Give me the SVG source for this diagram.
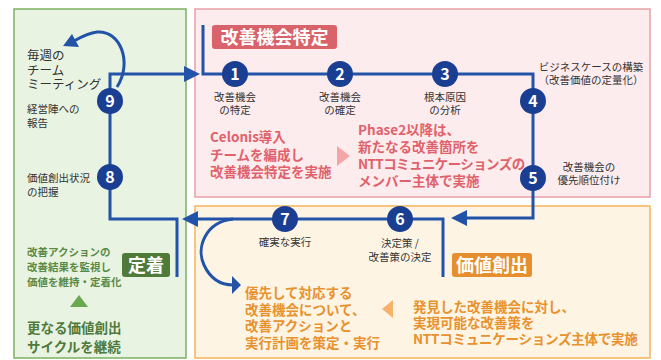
<svg xmlns="http://www.w3.org/2000/svg" width="661" height="360" viewBox="0 0 661 360">
<style>
text{font-family:"Noto Sans CJK JP","Noto Sans",sans-serif}
.lbl{font-size:10.5px;fill:#333}
.num{font-size:16px;font-weight:700;fill:#fff}
.ln{fill:none;stroke:#2353a8;stroke-width:3}
.ah{fill:#2353a8}
.dot{fill:#1a3f92}
.red{font-size:13.5px;font-weight:700;fill:#e0616b}
.org{font-size:13.5px;font-weight:700;fill:#e8912d}
.grn{font-size:10.5px;font-weight:700;fill:#5a8a46}
.tag{font-size:18px;font-weight:700;fill:#fff}
.big{font-size:12.5px;fill:#333}
</style>
<rect width="661" height="360" fill="#fff"/>
<g id="zone-green">
<rect x="14" y="9" width="172" height="349" fill="#e8f3e2" stroke="#7cb062" stroke-width="1.5"/>
<text x="27" y="60" class="big">毎週の</text>
<text x="27" y="74.5" class="big">チーム</text>
<text x="27" y="89" class="big">ミーティング</text>
<text x="27" y="113" class="lbl">経営陣への</text>
<text x="27" y="127" class="lbl">報告</text>
<text x="27" y="182" class="lbl">価値創出状況</text>
<text x="27" y="196" class="lbl">の把握</text>
<text x="27" y="256" class="grn">改善アクションの</text>
<text x="27" y="271" class="grn">改善結果を監視し</text>
<text x="27" y="286" class="grn">価値を維持・定着化</text>
<polygon points="70,307 88,307 79,295" fill="#6aa84f"/>
<text x="27" y="333" style="font-size:13.5px;font-weight:700;fill:#4f7a3a">更なる価値創出</text>
<text x="27" y="352" style="font-size:13.5px;font-weight:700;fill:#4f7a3a">サイクルを継続</text>
<rect x="122" y="253" width="48" height="24" rx="3" fill="#4f7a3a"/>
<text x="146" y="271.5" class="tag" text-anchor="middle">定着</text>
</g>
<g id="zone-pink">
<rect x="195" y="9" width="455" height="188" fill="#fdeced" stroke="#e9a0a6" stroke-width="1.5"/>
<rect x="212" y="25" width="125" height="24" rx="3" fill="#d9636a"/>
<text x="274.5" y="43.5" class="tag" text-anchor="middle">改善機会特定</text>
<text x="235" y="101" class="lbl" text-anchor="middle">改善機会</text>
<text x="235" y="114" class="lbl" text-anchor="middle">の特定</text>
<text x="340" y="101" class="lbl" text-anchor="middle">改善機会</text>
<text x="340" y="114" class="lbl" text-anchor="middle">の確定</text>
<text x="445" y="101" class="lbl" text-anchor="middle">根本原因</text>
<text x="445" y="114" class="lbl" text-anchor="middle">の分析</text>
<text x="591" y="71" class="lbl" text-anchor="middle">ビジネスケースの構築</text>
<text x="591" y="84" class="lbl" text-anchor="middle">（改善価値の定量化）</text>
<text x="589" y="171" class="lbl" text-anchor="middle">改善機会の</text>
<text x="589" y="184" class="lbl" text-anchor="middle">優先順位付け</text>
<text x="210" y="142" class="red">Celonis導入</text>
<text x="210" y="159.5" class="red">チームを編成し</text>
<text x="210" y="177" class="red">改善機会特定を実施</text>
<polygon points="337,146 337,166 350,156" fill="#f4a5a8"/>
<text x="358" y="135" class="red">Phase2以降は、</text>
<text x="358" y="152" class="red">新たなる改善箇所を</text>
<text x="358" y="169" class="red" style="letter-spacing:-0.6px">NTTコミュニケーションズの</text>
<text x="358" y="186" class="red">メンバー主体で実施</text>
</g>
<g id="zone-orange">
<rect x="195" y="206" width="455" height="152" fill="#fdf4e4" stroke="#f5b35c" stroke-width="1.5"/>
<text x="285" y="246" class="lbl" text-anchor="middle">確実な実行</text>
<text x="400" y="247" class="lbl" text-anchor="middle">決定策 /</text>
<text x="400" y="261" class="lbl" text-anchor="middle">改善策の決定</text>
<rect x="452" y="253" width="80" height="24" rx="3" fill="#e58f2e"/>
<text x="492" y="271.5" class="tag" text-anchor="middle">価値創出</text>
<text x="245" y="298" class="org">優先して対応する</text>
<text x="245" y="314.5" class="org">改善機会について、</text>
<text x="245" y="331" class="org">改善アクションと</text>
<text x="245" y="347.5" class="org">実行計画を策定・実行</text>
<polygon points="382,309 393,300 393,318" fill="#f6b26b"/>
<text x="413" y="312" class="org">発見した改善機会に対し、</text>
<text x="413" y="328" class="org">実現可能な改善策を</text>
<text x="413" y="344" class="org" style="letter-spacing:-0.25px">NTTコミュニケーションズ主体で実施</text>
</g>
<g id="connectors">
<path class="ln" d="M110,177 V74 H186"/>
<polygon class="ah" points="200,74 184,66 184,82"/>
<path class="ln" d="M203,25 V74 H533 V218 H465"/>
<polygon class="ah" points="451,218 467,210 467,226"/>
<path class="ln" d="M443,277 V219 H196"/>
<polygon class="ah" points="182,219 198,211 198,227"/>
<path class="ln" d="M110,177 V219 H177 V277"/>
<path class="ln" d="M117,87 C133,62 120,30 97,32 C88,33 81,37 74,41"/>
<polygon class="ah" points="63,46 72,34 79,47"/>
<path class="ln" d="M233,219 C205,222 196,248 204,265 C211,280 221,285 233,285"/>
<polygon class="ah" points="241,285 232,276 232,294"/>
</g>
<g id="n1"><circle class="dot" cx="235" cy="74" r="13"/><text class="num" x="235" y="79.5" text-anchor="middle">1</text></g>
<g id="n2"><circle class="dot" cx="340" cy="74" r="13"/><text class="num" x="340" y="79.5" text-anchor="middle">2</text></g>
<g id="n3"><circle class="dot" cx="445" cy="74" r="13"/><text class="num" x="445" y="79.5" text-anchor="middle">3</text></g>
<g id="n4"><circle class="dot" cx="533" cy="101" r="13"/><text class="num" x="533" y="106.5" text-anchor="middle">4</text></g>
<g id="n5"><circle class="dot" cx="533" cy="178" r="13"/><text class="num" x="533" y="183.5" text-anchor="middle">5</text></g>
<g id="n6"><circle class="dot" cx="400" cy="219" r="13"/><text class="num" x="400" y="224.5" text-anchor="middle">6</text></g>
<g id="n7"><circle class="dot" cx="285" cy="219" r="13"/><text class="num" x="285" y="224.5" text-anchor="middle">7</text></g>
<g id="n8"><circle class="dot" cx="110" cy="177" r="13"/><text class="num" x="110" y="182.5" text-anchor="middle">8</text></g>
<g id="n9"><circle class="dot" cx="110" cy="101" r="13"/><text class="num" x="110" y="106.5" text-anchor="middle">9</text></g>
</svg>
